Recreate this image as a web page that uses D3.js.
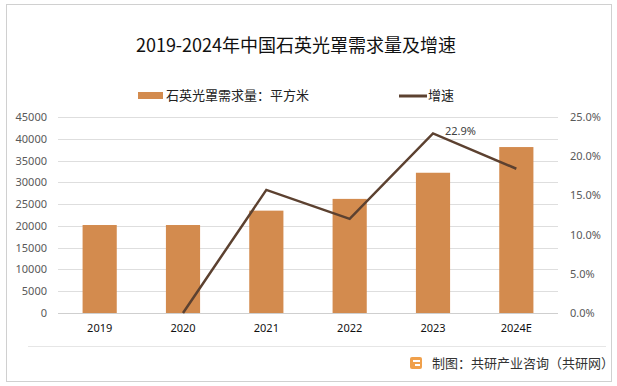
<!DOCTYPE html>
<html>
<head>
<meta charset="utf-8">
<script src="https://cdn.jsdelivr.net/npm/d3@7"></script>
<style>
  body { margin: 0; background: #fff; }
  svg { font-family: "Noto Sans CJK SC", "DejaVu Sans", sans-serif; }
</style>
</head>
<body>
<div id="chart"></div>
<script>
// data
const years = ["2019", "2020", "2021", "2022", "2023", "2024E"]
const demand = [20200, 20200, 23500, 26200, 32200, 38100]
const growth = [null, 0.0, 15.7, 12.0, 22.9, 18.4]
const leftTicks = [0, 5000, 10000, 15000, 20000, 25000, 30000, 35000, 40000, 45000]
const rightTicks = [0, 5, 10, 15, 20, 25]

const W = 617, H = 386
const margin = {top: 117, right: 59, bottom: 73, left: 58},
  width = W - margin.left - margin.right,
  height = H - margin.top - margin.bottom

const svg = d3.select("#chart")
  .append("svg")
    .attr("width", W)
    .attr("height", H)

// outer frame and footer separator
svg.append("rect")
  .attr("x", 6.5).attr("y", 4.5)
  .attr("width", 605).attr("height", 377)
  .attr("fill", "none").attr("stroke", "#d0d0d0")
svg.append("line")
  .attr("x1", 28).attr("x2", 606).attr("y1", 346.5).attr("y2", 346.5)
  .attr("stroke", "#e6e6e6")

// title
svg.append("text")
  .attr("x", 296).attr("y", 52)
  .attr("text-anchor", "middle")
  .attr("font-size", 18)
  .attr("fill", "#111")
  .text("2019-2024年中国石英光罩需求量及增速")

// legend
svg.append("rect")
  .attr("x", 138).attr("y", 92).attr("width", 25).attr("height", 7)
  .attr("fill", "#d38b4e")
svg.append("text")
  .attr("x", 166).attr("y", 100).attr("font-size", 13).attr("fill", "#222")
  .text("石英光罩需求量：平方米")
svg.append("line")
  .attr("x1", 399).attr("x2", 427).attr("y1", 96).attr("y2", 96)
  .attr("stroke", "#5c4130").attr("stroke-width", 3)
svg.append("text")
  .attr("x", 428).attr("y", 100).attr("font-size", 13).attr("fill", "#222")
  .text("增速")

const g = svg.append("g")
  .attr("transform", `translate(${margin.left},${margin.top})`)

const x = d3.scaleBand()
  .domain(years)
  .range([0, width])
  .paddingInner(0.59)
  .paddingOuter(0.295)

const y = d3.scaleLinear()
  .domain([0, 45000])
  .range([height, 0])

const y2 = d3.scaleLinear()
  .domain([0, 25])
  .range([height, 0])

// gridlines
g.append("g")
  .selectAll("line")
  .data(leftTicks)
  .join("line")
    .attr("x1", 0).attr("x2", width)
    .attr("y1", d => Math.round(y(d)) + 0.5)
    .attr("y2", d => Math.round(y(d)) + 0.5)
    .attr("stroke", d => d === 0 ? "#cfcfcf" : "#dedede")

// left axis
const yAxis = g.append("g")
  .attr("transform", "translate(-11,0)")
  .call(d3.axisLeft(y).tickValues(leftTicks).tickSize(0).tickPadding(0)
    .tickFormat(d3.format("d")))
yAxis.select(".domain").remove()
yAxis.selectAll("text").attr("font-size", 11).attr("fill", "#595959")
  .style("font-family", "'Noto Sans', sans-serif")

// right axis
const y2Axis = g.append("g")
  .attr("transform", `translate(${width + 12},0)`)
  .call(d3.axisRight(y2).tickValues(rightTicks).tickSize(0).tickPadding(0)
    .tickFormat(d => d.toFixed(1) + "%"))
y2Axis.select(".domain").remove()
y2Axis.selectAll("text").attr("font-size", 11).attr("fill", "#595959")
  .style("font-family", "'Noto Sans', sans-serif")

// x axis labels
const xAxis = g.append("g")
  .attr("transform", `translate(0,${height + 11})`)
  .call(d3.axisBottom(x).tickSize(0).tickPadding(0))
xAxis.select(".domain").remove()
xAxis.selectAll("text").attr("font-size", 11).attr("fill", "#111")
  .style("font-family", "'Noto Sans', sans-serif")

// bars
g.append("g")
  .selectAll("rect")
  .data(demand)
  .join("rect")
    .attr("x", (d, i) => x(years[i]))
    .attr("y", d => y(d))
    .attr("width", x.bandwidth())
    .attr("height", d => height - y(d))
    .attr("fill", "#d38b4e")

// growth line
const pts = growth.map((v, i) => ({year: years[i], v})).filter(d => d.v !== null)
const line = d3.line()
  .x(d => x(d.year) + x.bandwidth() / 2)
  .y(d => y2(d.v))

g.append("path")
  .datum(pts)
  .attr("d", line)
  .attr("fill", "none")
  .attr("stroke", "#5c4130")
  .attr("stroke-width", 2.5)
  .attr("stroke-linejoin", "miter")

// data label for the peak
const peak = pts.find(d => d.year === "2023")
g.append("text")
  .attr("x", x(peak.year) + x.bandwidth() / 2 + 12)
  .attr("y", y2(peak.v) + 2)
  .attr("font-size", 11)
  .attr("fill", "#404040")
  .style("font-family", "'Noto Sans', sans-serif")
  .text(peak.v.toFixed(1) + "%")

// footer
const logo = svg.append("g").attr("transform", "translate(410,357)")
logo.append("rect").attr("width", 12).attr("height", 12).attr("rx", 2).attr("fill", "#f0a04b")
logo.append("rect").attr("x", 3).attr("y", 3).attr("width", 7).attr("height", 2).attr("fill", "#fff")
logo.append("rect").attr("x", 5).attr("y", 7).attr("width", 5).attr("height", 2).attr("fill", "#fff")
svg.append("text")
  .attr("x", 432).attr("y", 368)
  .attr("font-size", 13)
  .attr("fill", "#333")
  .text("制图：共研产业咨询（共研网）")
</script>
</body>
</html>
